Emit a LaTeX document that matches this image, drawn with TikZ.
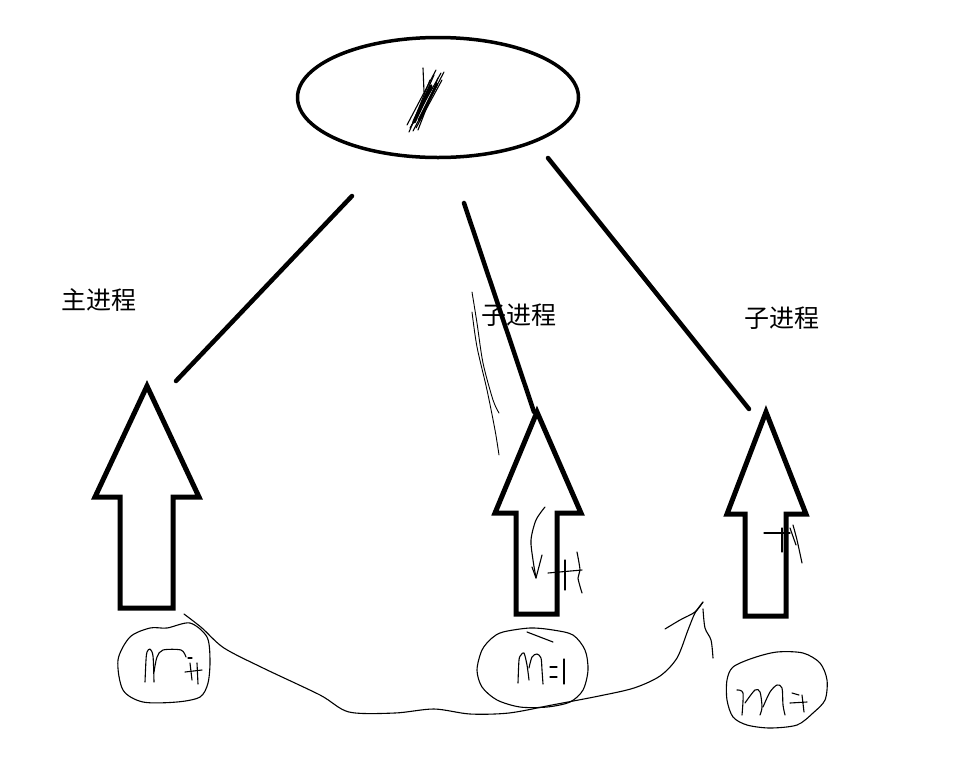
\documentclass[tikz,border=0pt]{standalone}
\usepackage{fontspec}
\newfontfamily\cjk{Noto Sans CJK SC}
\usetikzlibrary{shapes.geometric}
\begin{document}
\begin{tikzpicture}[x=1pt,y=-1pt,
  thickline/.style={line width=4.5pt, line cap=round},
  blockarrow/.style={line width=5pt, line join=miter},
  pen/.style={line width=1.1pt, line cap=round, line join=round},
  lbl/.style={font=\cjk\fontsize{25}{25}\selectfont, inner sep=0pt}]
\useasboundingbox (0,0) rectangle (953,761);
\fill[white] (0,0) rectangle (953,761);

% top ellipse
\node[ellipse, draw, line width=3.5pt, minimum width=281pt, minimum height=120pt, inner sep=0pt] (top) at (438,97.5) {};
% scribble inside ellipse
\draw[pen] (423,68) -- (424,92);
\draw[pen] (441,73) -- (410,128);
\draw[pen] (436,70) -- (407,125);
\draw[pen] (444,72) -- (413,131);
\draw[pen] (430,80) -- (412,125);
\draw[pen] (438,78) -- (418,130);
\draw[pen] (434,75) -- (409,132);
\draw[pen] (442,80) -- (416,128);
\draw[line width=3.5pt, line cap=round] (431,86) -- (414,122);
\draw[line width=2.5pt, line cap=round] (437,84) -- (419,120);

% block arrows
\draw[blockarrow] (147,386) -- (199,497) -- (173,497) -- (173,608) -- (120,608) -- (120,497) -- (95,497) -- cycle;
\draw[blockarrow] (537,412) -- (581,513) -- (557,513) -- (557,614) -- (516,614) -- (516,513) -- (495,513) -- cycle;
\draw[blockarrow] (766,412) -- (806,514) -- (786,514) -- (786,616) -- (745,616) -- (745,514) -- (727,514) -- cycle;

% connector ends
\coordinate (l1s) at (352,196); \coordinate (l1e) at (176,381);
\coordinate (l2s) at (464,203); \coordinate (l2e) at (534,412);
\coordinate (l3s) at (548,158); \coordinate (l3e) at (749,409);
\draw[thickline] (l1s) -- (l1e);
\draw[thickline] (l2s) -- (l2e);
\draw[thickline] (l3s) -- (l3e);

% labels
\node[lbl] (mainp) at (99,300) {主进程};
\node[lbl] (child1) at (519,315) {子进程};
\node[lbl] (child2) at (782,318) {子进程};

% thin strokes beside line 2
\draw[pen, line width=0.9pt] plot[smooth] coordinates {(472,292) (477,323) (483,363) (493,400) (499,413)};
\draw[pen, line width=0.9pt] plot[smooth] coordinates {(472,312) (477,347) (487,390) (495,430) (499,455)};

% scribbles inside arrow 2
\draw[pen] plot[smooth] coordinates {(545,507) (536,520) (531,540) (533,560) (536,578)};
\draw[pen] (532,567) -- (536,578) -- (542,555);
\draw[pen] (548,573) -- (582,570);
\draw[pen] (565,560) -- (565,590);
\draw[pen] plot[smooth] coordinates {(577,552) (580,570) (578,578) (582,593)};

% scribbles inside arrow 3
\draw[pen] (764,533) -- (790,533);
\draw[pen] (782,528) -- (782,552);
\draw[pen] plot[smooth] coordinates {(793,525) (797,540) (802,563)};
\draw[pen] (790,528) -- (796,545);

% hand-drawn circles
\draw[pen] plot[smooth cycle] coordinates {(167,628) (190,623) (207,637) (210,660) (208,683) (200,697) (177,702) (143,702) (123,690) (118,660) (130,637) (150,628)};
\draw[pen] plot[smooth cycle] coordinates {(503,632) (530,628) (553,630) (573,635) (585,650) (588,670) (583,690) (570,702) (547,707) (520,707) (497,700) (482,687) (477,670) (482,650) (492,638)};
\draw[pen] plot[smooth cycle] coordinates {(753,658) (777,652) (803,653) (820,663) (827,680) (825,700) (813,713) (797,725) (770,728) (747,725) (733,717) (727,700) (727,680) (733,667)};
\draw[pen] (527,632) -- (553,642);

% text in circle 1
\draw[pen] plot[smooth] coordinates {(145,682) (146,660) (147,652) (150,649) (153,656) (154,682)};
\draw[pen] plot[smooth] coordinates {(154,672) (157,657) (163,650) (181,650) (186,657)};
\draw[pen] (188,658) -- (192,658);
\draw[pen] (190,663) -- (192,680);
\draw[pen] (197,663) -- (198,684);
\draw[pen] (185,672) -- (202,670);

% text in circle 2
\draw[pen] plot[smooth] coordinates {(518,683) (519,660) (521,655) (524,653) (527,665) (529,680)};
\draw[pen] plot[smooth] coordinates {(529,668) (532,657) (537,654) (541,658) (542,670) (543,684)};
\draw[pen] (550,667) -- (557,667);
\draw[pen] (550,677) -- (557,677);
\draw[pen] (564,659) -- (564,684);

% text in circle 3
\draw[pen] plot[smooth] coordinates {(737,690) (743,693) (742,715)};
\draw[pen] plot[smooth] coordinates {(745,703) (755,690) (760,692) (762,707) (760,715)};
\draw[pen] plot[smooth] coordinates {(763,707) (770,692) (777,685) (782,688) (783,705) (785,715)};
\draw[pen] (790,703) -- (807,702);
\draw[pen] (802,695) -- (804,712);
\draw[pen] (792,693) -- (799,695);

% long bottom curve with arrow strokes
\coordinate (cs) at (184,614);
\coordinate (ce) at (703,602);
\draw[pen] plot[smooth] coordinates {(cs) (202,628) (224,648) (263,668) (320,695) (349,712) (395,713) (434,709) (470,714) (509,713) (552,705) (599,696) (634,688) (660,676) (677,658) (688,630) (695,613) (ce)};
\draw[pen] plot[smooth] coordinates {(665,629) (680,620) (695,612) (ce)};
\draw[pen] plot[smooth] coordinates {(703,609) (705,628) (711,640) (713,658)};
\end{tikzpicture}
\end{document}
